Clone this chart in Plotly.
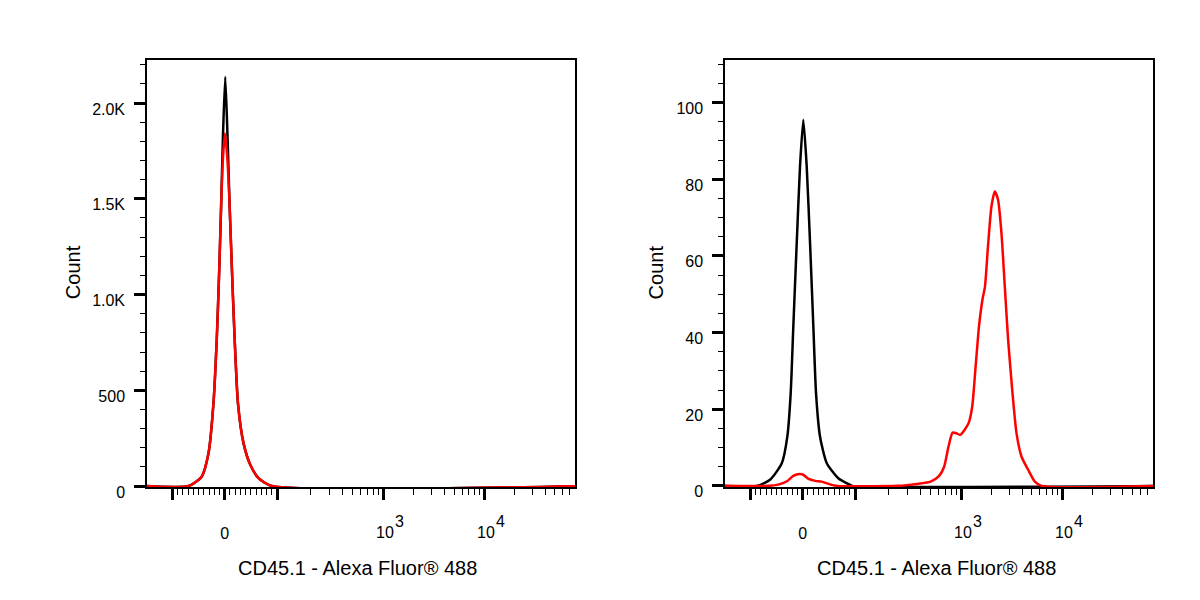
import numpy as np
import plotly.graph_objects as go
from plotly.subplots import make_subplots

# CD45.1 - Alexa Fluor 488 intensity vs event count
# left panel: both samples negative
left_black_x = [-170, -69, -44, -31, -21.5, -15, -10.5, -6.7, -3.4, 1, 5.4, 9.2, 13.8, 18.8, 25.3, 36, 49, 65, 90, 90000]
left_black_y = [0, 0, 49, 171, 432, 780, 1128, 1478, 1824, 2137, 1824, 1478, 1128, 780, 432, 223, 110, 40, 0, 0]
left_red_x = [-170, -69, -44, -31, -21.5, -15, -10.5, -6.7, -3.2, 0.5, 4.8, 9.2, 13.8, 18.8, 25.3, 36, 49, 65, 90, 90000]
left_red_y = [0, 0, 49, 171, 432, 780, 1128, 1478, 1720, 1843, 1720, 1478, 1128, 780, 432, 223, 110, 40, 0, 0]

# right panel: black = control, red = CD45.1+ population
right_black_x = [-170, -88, -62.5, -40, -29.4, -23, -18, -11.5, -5.2, 1.1, 7.6, 14, 20.3, 25.4, 33, 46, 68, 90, 95, 90000]
right_black_y = [0, 0, 1.6, 5.9, 12.9, 24.2, 41.5, 63.3, 83.3, 95.5, 83.3, 63.3, 41.5, 24.2, 12.9, 5.9, 2.0, 0.3, 0, 0]
right_red_x = [-170, -65, -45, -30, -18, -6, 1, 11, 24, 36, 52, 66, 244, 371, 504, 610, 682, 753, 825, 904,
               977, 1079, 1189, 1285, 1387, 1496, 1618, 1715, 1836, 1985, 2142, 2309, 2495, 2692, 2904, 3208,
               3516, 3943, 4584, 5342, 6223, 90000]
right_red_y = [0, 0, 0.4, 1.2, 2.6, 3.1, 2.9, 1.8, 1.3, 1.1, 0.4, 0, 0, 0.5, 1.1, 2.6, 5.0, 10.3, 13.9, 13.7,
               13.3, 14.6, 16.5, 20.7, 31.1, 41.5, 48.5, 52.0, 62.4, 72.8, 76.8, 74.6, 65.9, 52.0, 38.1, 24.2,
               13.7, 7.6, 4.2, 1.1, 0, 0]

# axis ticks
x_major = [-100, 0, 100, 1000, 10000]
x_major_text = ['', '0', '', '', '']
x_minor = (list(range(-90, 0, 10)) + list(range(10, 100, 10)) + list(range(200, 1000, 100))
           + list(range(2000, 10000, 1000)) + list(range(20000, 90000, 10000)))
decade_vals = [1000, 10000]
decade_exps = ['3', '4']
left_y_major = [0, 500, 1000, 1500, 2000]
left_y_text = ['0', '500', '1.0K', '1.5K', '2.0K']
right_y_major = [0, 20, 40, 60, 80, 100]

LIN_W = 0.52     # width of the linear zone around 0, in decades
STRETCH = 0.06


def biex(v):
    # rough logicle-like display: linear inside +/-100, log10 outside
    v = np.asarray(v, dtype=float)
    a = np.abs(v)
    safe = np.maximum(a, 100)
    d = np.where(a <= 100, a / 100 * LIN_W, LIN_W + np.log10(safe / 100) + STRETCH * (1 - 100 / safe))
    return np.sign(v) * d


fig = make_subplots(rows=1, cols=2)

fig.add_trace(go.Scatter(x=biex(left_black_x), y=left_black_y, mode='lines', line_shape='spline',
                         line=dict(color='black', width=2.5, smoothing=0.6)), row=1, col=1)
fig.add_trace(go.Scatter(x=biex(left_red_x), y=left_red_y, mode='lines', line_shape='spline',
                         line=dict(color='red', width=2.5, smoothing=0.6)), row=1, col=1)
fig.add_trace(go.Scatter(x=biex(right_black_x), y=right_black_y, mode='lines', line_shape='spline',
                         line=dict(color='black', width=2.5, smoothing=0.6)), row=1, col=2)
fig.add_trace(go.Scatter(x=biex(right_red_x), y=right_red_y, mode='lines', line_shape='spline',
                         line=dict(color='red', width=2.5, smoothing=0.6)), row=1, col=2)

font_name = 'Liberation Sans, Arial, sans-serif'
tick_font = dict(family=font_name, size=16, color='black')
common = dict(showline=True, mirror=True, linecolor='black', linewidth=1.5, showgrid=False, zeroline=False,
              ticks='outside', ticklen=11, tickwidth=3, tickcolor='black', tickfont=tick_font,
              automargin=False)

x_axis = dict(common, tickmode='array', tickvals=biex(x_major), ticktext=x_major_text,
              range=[-0.772, 3.48], ticklabelstandoff=20,
              minor=dict(tickmode='array', tickvals=biex(x_minor), ticks='outside', ticklen=6,
                         tickwidth=1.3, tickcolor='black'))
fig.update_xaxes(x_axis, row=1, col=1, domain=[0.1225, 0.4792])
fig.update_xaxes(x_axis, row=1, col=2, domain=[0.6042, 0.9608])

fig.update_yaxes(common, row=1, col=1, domain=[0.1883, 0.9], range=[-5, 2225],
                 tickmode='array', tickvals=left_y_major, ticktext=left_y_text,
                 ticklabelstandoff=6, ticklabelshift=6,
                 minor=dict(dtick=100, tick0=0, ticks='outside', ticklen=5, tickwidth=1.3, tickcolor='black'))
fig.update_yaxes(common, row=1, col=2, domain=[0.1883, 0.9], range=[-0.3, 111.1],
                 tickmode='array', tickvals=right_y_major,
                 ticklabelstandoff=6, ticklabelshift=6,
                 minor=dict(dtick=5, tick0=0, ticks='outside', ticklen=5, tickwidth=1.3, tickcolor='black'))

# 10^n labels written FlowJo style: full-size exponent raised to the right
for xref in ['x', 'x2']:
    for val, ex in zip(decade_vals, decade_exps):
        fig.add_annotation(text='10', x=float(biex(val)), y=0.112, xref=xref, yref='paper', xshift=2,
                           showarrow=False, font=tick_font, xanchor='center', yanchor='middle')
        fig.add_annotation(text=ex, x=float(biex(val)), y=0.1305, xref=xref, yref='paper', xshift=16.5,
                           showarrow=False, font=tick_font, xanchor='center', yanchor='middle')

title_font = dict(family=font_name, size=20, color='black')
for x_title, x_count in [(0.2975, 0.061), (0.78, 0.547)]:
    fig.add_annotation(text='CD45.1 - Alexa Fluor® 488', x=x_title, y=0.0533, xref='paper', yref='paper',
                       showarrow=False, font=title_font, xanchor='center', yanchor='middle')
    fig.add_annotation(text='Count', x=x_count, y=0.5467, xref='paper', yref='paper', textangle=-90,
                       showarrow=False, font=title_font, xanchor='center', yanchor='middle')

fig.update_layout(width=1200, height=600, showlegend=False, plot_bgcolor='white', paper_bgcolor='white',
                  margin=dict(l=0, r=0, t=0, b=0))

# no page margin, so the 1200x600 figure sits at the window corner
fig.write_html("out.html", config={'displayModeBar': False},
               post_script="document.body.style.margin='0px';")
